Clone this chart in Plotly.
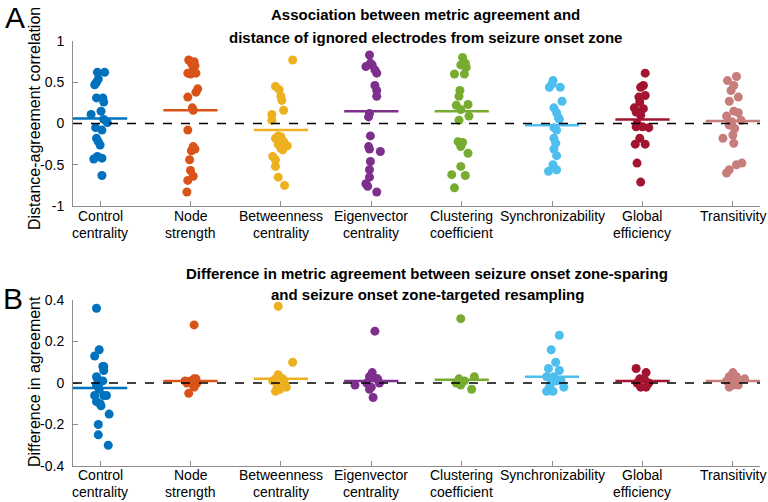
import plotly.graph_objects as go

categories = ["Control<br>centrality", "Node<br>strength", "Betweenness<br>centrality",
              "Eigenvector<br>centrality", "Clustering<br>coefficient", "Synchronizability",
              "Global<br>efficiency", "Transitivity"]
colors = ["#0072BD", "#D95319", "#EDB120", "#7E2F8E", "#77AC30", "#4DBEEE", "#A2142F", "#C87D7D"]

# Panel A: distance-agreement correlation per patient
corr_ctrl = [0.62, 0.62, 0.54, 0.50, 0.47, 0.31, 0.31, 0.26, 0.15, 0.11, 0.05, 0.01, -0.05, -0.08,
             -0.18, -0.22, -0.26, -0.40, -0.42, -0.43, -0.63]
corr_node = [0.77, 0.75, 0.70, 0.68, 0.61, 0.60, 0.61, 0.73, 0.42, 0.38, 0.32, 0.19, 0.16, -0.08,
             -0.28, -0.31, -0.33, -0.44, -0.57, -0.64, -0.69, -0.83]
corr_betw = [0.77, 0.45, 0.41, 0.33, 0.28, 0.16, 0.11, 0.04, -0.15, -0.18, -0.20, -0.25, -0.27,
             -0.32, -0.16, -0.22, -0.30, -0.40, -0.44, -0.52, -0.65, -0.75]
corr_eig = [0.83, 0.73, 0.71, 0.69, 0.65, 0.61, 0.46, 0.40, 0.33, 0.12, 0.08, -0.15, -0.28, -0.31,
            -0.34, -0.46, -0.56, -0.65, -0.73, -0.76, -0.83]
corr_clus = [0.80, 0.73, 0.71, 0.68, 0.60, 0.60, 0.40, 0.33, 0.22, 0.23, 0.17, 0.09, 0.04, -0.22,
             -0.23, -0.28, -0.36, -0.52, -0.62, -0.63, -0.78]
corr_sync = [0.52, 0.48, 0.44, 0.44, 0.27, 0.19, 0.13, 0.07, 0.05, -0.05, -0.08, -0.18, -0.24,
             -0.31, -0.39, -0.50, -0.56, -0.58]
corr_glob = [0.61, 0.46, 0.44, 0.34, 0.32, 0.26, 0.19, 0.18, 0.14, 0.10, 0.00, -0.04, -0.05, -0.04,
             -0.18, -0.25, -0.25, -0.48, -0.71]
corr_trans = [0.57, 0.52, 0.46, 0.40, 0.32, 0.27, 0.15, 0.13, 0.09, 0.04, 0.02, -0.02, -0.06, -0.14,
              -0.18, -0.24, -0.48, -0.50, -0.56, -0.60]
mean_corr = [0.06, 0.16, -0.08, 0.15, 0.15, -0.02, 0.05, 0.03]

# Panel B: difference in agreement per patient
diff_ctrl = [0.36, 0.16, 0.13, 0.08, 0.08, 0.06, 0.03, 0.02, 0.01, -0.01, -0.02, -0.03, -0.06,
             -0.06, -0.06, -0.09, -0.10, -0.11, -0.15, -0.20, -0.25, -0.30]
diff_node = [0.28, 0.01, 0.01, 0.02, 0.02, 0.00, 0.00, -0.02, 0.01, 0.00, -0.05]
diff_betw = [0.37, 0.10, 0.04, 0.02, 0.02, 0.01, 0.00, -0.02, -0.03, -0.04, -0.02]
diff_eig = [0.25, 0.05, 0.03, 0.02, 0.02, 0.00, -0.02, -0.03, 0.00, -0.01, -0.07]
diff_clus = [0.31, 0.03, 0.02, 0.00, 0.01, -0.01, -0.03]
diff_sync = [0.23, 0.16, 0.10, 0.07, 0.06, 0.03, 0.03, 0.01, 0.01, 0.00, -0.02, -0.02, -0.04, -0.04]
diff_glob = [0.07, 0.05, 0.02, 0.02, 0.00, 0.00, -0.02, -0.02]
diff_trans = [0.05, 0.03, 0.03, 0.02, 0.01, -0.01, -0.01, -0.02]
mean_diff = [-0.024, 0.01, 0.02, 0.01, 0.016, 0.03, 0.01, 0.01]

# horizontal jitter (category units)
jit_corr_ctrl = [-0.03, 0.05, -0.02, -0.04, -0.06, -0.04, 0.03, 0.04, 0.01, -0.10, 0.04, 0.08, -0.05,
                 0.02, -0.04, -0.02, 0.00, -0.03, 0.02, -0.07, 0.02]
jit_corr_node = [-0.02, 0.04, 0.05, 0.03, -0.03, 0.00, 0.06, 0.01, 0.08, 0.06, -0.03, 0.02, 0.03,
                 -0.03, 0.03, 0.05, 0.01, -0.01, 0.00, 0.03, -0.03, -0.04]
jit_corr_betw = [0.13, -0.06, -0.02, 0.00, 0.01, 0.03, -0.10, -0.10, -0.03, -0.06, 0.01, -0.03, 0.07,
                 0.02, 0.00, 0.03, 0.00, -0.09, -0.06, -0.06, -0.03, 0.04]
jit_corr_eig = [-0.02, -0.01, 0.01, -0.06, 0.04, 0.06, 0.04, 0.06, 0.06, -0.02, -0.03, -0.01, -0.03,
                -0.02, 0.10, -0.01, -0.02, -0.02, -0.06, -0.04, 0.06]
jit_corr_clus = [0.01, 0.04, -0.01, 0.05, -0.08, 0.03, -0.02, -0.03, -0.06, 0.07, -0.01, 0.08, -0.03,
                 -0.04, 0.01, -0.01, 0.07, -0.01, -0.11, 0.04, -0.08]
jit_corr_sync = [0.01, 0.00, -0.03, 0.09, 0.11, 0.02, 0.05, 0.07, 0.08, 0.02, 0.05, 0.02, 0.04, 0.02,
                 0.05, 0.01, 0.05, -0.04]
jit_corr_glob = [0.03, 0.01, -0.02, 0.03, -0.04, -0.03, -0.09, 0.01, -0.07, -0.02, -0.06, 0.00, 0.07,
                 -0.07, -0.03, -0.08, 0.03, -0.06, -0.02]
jit_corr_trans = [0.04, -0.06, 0.01, -0.02, 0.06, -0.04, 0.01, 0.06, -0.07, 0.09, -0.01, -0.04, 0.02,
                  0.00, -0.11, 0.01, 0.10, 0.04, -0.04, -0.07]

jit_diff_ctrl = [-0.04, -0.01, -0.06, 0.03, 0.04, 0.04, -0.04, -0.03, 0.03, -0.04, -0.02, -0.01,
                 -0.06, 0.04, 0.07, -0.04, 0.00, 0.01, 0.10, -0.02, -0.02, 0.09]
jit_diff_node = [0.04, -0.06, 0.00, 0.04, 0.06, 0.07, 0.02, 0.04, 0.04, -0.04, -0.02]
jit_diff_betw = [-0.03, 0.13, -0.03, -0.06, 0.02, -0.09, 0.04, -0.04, -0.01, -0.06, 0.06]
jit_diff_eig = [0.04, 0.01, -0.02, 0.06, 0.07, -0.05, 0.00, -0.02, 0.09, -0.18, 0.02]
jit_diff_clus = [-0.01, 0.14, -0.03, -0.06, 0.03, -0.01, 0.11]
jit_diff_sync = [0.08, -0.01, 0.04, -0.04, 0.08, -0.06, 0.02, 0.05, 0.10, -0.01, -0.03, 0.13, -0.06, 0.01]
jit_diff_glob = [-0.07, 0.04, -0.03, 0.02, 0.07, -0.06, -0.02, 0.04]
jit_diff_trans = [0.00, -0.04, 0.04, 0.13, -0.07, 0.00, 0.06, -0.04]

corr_all = [corr_ctrl, corr_node, corr_betw, corr_eig, corr_clus, corr_sync, corr_glob, corr_trans]
diff_all = [diff_ctrl, diff_node, diff_betw, diff_eig, diff_clus, diff_sync, diff_glob, diff_trans]
jit_corr = [jit_corr_ctrl, jit_corr_node, jit_corr_betw, jit_corr_eig, jit_corr_clus, jit_corr_sync,
            jit_corr_glob, jit_corr_trans]
jit_diff = [jit_diff_ctrl, jit_diff_node, jit_diff_betw, jit_diff_eig, jit_diff_clus, jit_diff_sync,
            jit_diff_glob, jit_diff_trans]

W, H = 768, 502
FONT = "Liberation Sans, Arial, sans-serif"
fig = go.Figure()

panels = [(corr_all, jit_corr, mean_corr, "x", "y"), (diff_all, jit_diff, mean_diff, "x2", "y2")]
for vals_all, jit_all, means, xa, ya in panels:
    for i, (vals, jit) in enumerate(zip(vals_all, jit_all)):
        c = i + 1
        xs = [c + j for j in jit[:len(vals)]]
        fig.add_trace(go.Scatter(x=xs, y=vals, mode="markers", xaxis=xa, yaxis=ya,
                                 marker=dict(color=colors[i], size=9, line=dict(width=0)),
                                 showlegend=False, hoverinfo="y"))
    for i, m in enumerate(means):
        c = i + 1
        fig.add_trace(go.Scatter(x=[c - 0.3, c + 0.3], y=[m, m], mode="lines", xaxis=xa, yaxis=ya,
                                 line=dict(color=colors[i], width=2.5), showlegend=False,
                                 hoverinfo="skip"))
    fig.add_shape(type="line", xref=xa, yref=ya, x0=0.7, x1=8.3, y0=0, y1=0,
                  line=dict(color="black", width=1.5, dash="dash"), layer="above")

xdom = [73 / W, 760 / W]
axis_common = dict(showline=True, linecolor="#8c8c8c", linewidth=1, ticks="inside",
                   tickcolor="#8c8c8c", ticklen=5, showgrid=False, zeroline=False,
                   automargin=False,
                   tickfont=dict(family=FONT, size=14, color="black"))
fig.update_layout(
    width=W, height=H, plot_bgcolor="white", paper_bgcolor="white",
    margin=dict(l=0, r=0, t=0, b=0, pad=0, autoexpand=False),
    xaxis=dict(domain=xdom, range=[0.7, 8.3], tickvals=list(range(1, 9)), showticklabels=False,
               anchor="y", **axis_common),
    yaxis=dict(domain=[1 - 206 / H, 1 - 41 / H], range=[-1, 1], tickvals=[-1, -0.5, 0, 0.5, 1],
               ticktext=["-1", "-0.5", "0", "0.5", "1"], anchor="x", ticklabelstandoff=5,
               **axis_common),
    xaxis2=dict(domain=xdom, range=[0.7, 8.3], tickvals=list(range(1, 9)), showticklabels=False,
                anchor="y2", **axis_common),
    yaxis2=dict(domain=[1 - 466 / H, 1 - 300 / H], range=[-0.4, 0.4],
                tickvals=[-0.4, -0.2, 0, 0.2, 0.4], ticktext=["-0.4", "-0.2", "0", "0.2", "0.4"],
                anchor="x2", ticklabelstandoff=5, **axis_common),
)

def ann(text, x, y, size, bold=False, angle=0):
    fig.add_annotation(text=f"<b>{text}</b>" if bold else text, x=x / W, y=1 - y / H,
                       xref="paper", yref="paper", showarrow=False, xanchor="center",
                       yanchor="middle", textangle=angle,
                       font=dict(family=FONT, size=size, color="black"))

# category labels under each panel (two lines)
for xa, y1 in (("x", 216), ("x2", 475)):
    for i, lab in enumerate(categories):
        for k, line in enumerate(lab.split("<br>")):
            fig.add_annotation(text=line, x=i + 1, xref=xa, y=1 - (y1 + 17 * k) / H, yref="paper",
                               showarrow=False, xanchor="center", yanchor="middle",
                               font=dict(family=FONT, size=14, color="black"))

ann("Association between metric agreement and", 425, 15, 15, bold=True)
ann("distance of ignored electrodes from seizure onset zone", 425, 37, 15, bold=True)
ann("Difference in metric agreement between seizure onset zone-sparing", 427, 273, 15, bold=True)
ann("and seizure onset zone-targeted resampling", 427, 294, 15, bold=True)
ann("Distance-agreement correlation", 34, 119, 16, angle=-90)
ann("Difference in agreement", 34, 382, 16, angle=-90)
ann("A", 15, 18, 30)
ann("B", 13, 298, 30)

fig.write_html("out.html", config={"displayModeBar": False},
               post_script="document.body.style.margin='0';document.body.style.padding='0';")
